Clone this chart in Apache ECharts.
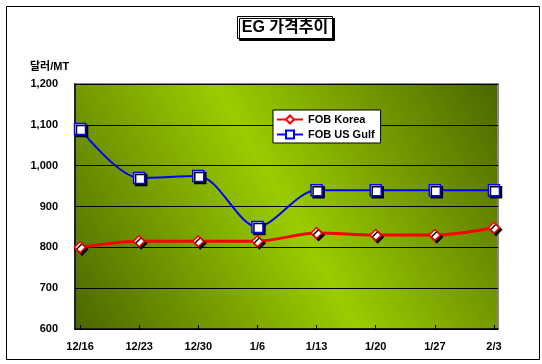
<!DOCTYPE html>
<html><head><meta charset="utf-8">
<script src="https://cdn.jsdelivr.net/npm/echarts@6/dist/echarts.min.js"></script>
<style>html,body{margin:0;padding:0;background:#fff}#c{width:542px;height:364px}</style>
</head><body><div id="c"></div>
<script>
const categories = ['12/16','12/23','12/30','1/6','1/13','1/20','1/27','2/3'];
const fobKorea = [800, 815, 815, 815, 835, 830, 830, 848];
const fobUSGulf = [1090, 970, 975, 850, 940, 940, 940, 940];
const yTicks = [600, 700, 800, 900, 1000, 1100, 1200];
const titleText = 'EG 가격추이';
const yUnit = '달러/MT';

const FONT = '"Liberation Sans", Arial, "Noto Sans CJK KR", sans-serif';
const chart = echarts.init(document.getElementById('c'), null, {renderer:'canvas'});
const idx = categories.map((_, i) => i);
const fmt = v => v >= 1000 ? Math.floor(v/1000) + ',' + String(v%1000).padStart(3,'0') : String(v);

chart.setOption({
  animation: false,
  backgroundColor: '#fff',
  graphic: [{
    type: 'rect', left: 4, top: 4, z: 0,
    shape: {width: 533, height: 353},
    style: {fill: 'none', stroke: '#000', lineWidth: 1}
  }],
  title: {
    text: titleText, left: 280, top: 16, textAlign: 'center',
    padding: [4, 5, 3, 5],
    borderColor: '#000', borderWidth: 1, backgroundColor: '#fff',
    shadowColor: '#000', shadowOffsetX: 2, shadowOffsetY: 2, shadowBlur: 0,
    textStyle: {fontFamily: FONT, fontWeight: 'bold', fontSize: 16, color: '#000'}
  },
  legend: {
    orient: 'vertical', left: 273, top: 110,
    backgroundColor: '#fff', borderColor: '#000', borderWidth: 1,
    padding: [4, 6, 3, 3], itemGap: 4, itemWidth: 26, itemHeight: 10,
    textStyle: {fontFamily: FONT, fontWeight: 'bold', fontSize: 11, color: '#000'},
    data: ['FOB Korea', 'FOB US Gulf']
  },
  grid: {
    left: 75, right: 44, top: 84, bottom: 35,
    show: true, borderColor: '#888', borderWidth: 2,
    backgroundColor: {
      type: 'linear', x: 1, y: 0, x2: 0, y2: 1,
      colorStops: [
        {offset: 0, color: '#4b6600'},
        {offset: 0.5, color: '#9acc00'},
        {offset: 1, color: '#4b6600'}
      ]
    }
  },
  xAxis: {
    type: 'value', min: -0.085, max: 7.068,
    axisLine: {show: true, onZero: false, lineStyle: {color: '#000', width: 1.5}},
    axisTick: {show: true, inside: true, length: 4, customValues: idx, lineStyle: {color: '#000'}},
    splitLine: {show: false},
    axisLabel: {
      customValues: idx, margin: 12,
      formatter: v => categories[Math.round(v)],
      fontFamily: FONT, fontWeight: 'bold', fontSize: 11, color: '#000'
    }
  },
  yAxis: {
    type: 'value', min: 600, max: 1200, interval: 100,
    name: yUnit, nameLocation: 'end', nameGap: 12,
    nameTextStyle: {fontFamily: FONT, fontWeight: 'bold', fontSize: 11, color: '#000', align: 'left', padding: [0, 0, 0, -45]},
    axisLine: {show: true, onZero: false, lineStyle: {color: '#000', width: 1.5}},
    axisTick: {show: false},
    splitLine: {show: true, lineStyle: {color: '#000', width: 1}},
    axisLabel: {
      formatter: fmt, margin: 17,
      fontFamily: FONT, fontWeight: 'bold', fontSize: 11, color: '#000'
    }
  },
  series: [
    {
      name: 'FOB Korea', type: 'line', smooth: 0.3,
      data: fobKorea.map((v, i) => [i, v]),
      symbol: 'diamond', symbolSize: 11,
      lineStyle: {color: '#ff0000', width: 3},
      itemStyle: {color: '#fff', borderColor: '#ff0000', borderWidth: 1.5,
        shadowColor: '#000', shadowOffsetX: 2, shadowOffsetY: 2, shadowBlur: 0},
      z: 3
    },
    {
      name: 'FOB US Gulf', type: 'line', smooth: 0.3,
      data: fobUSGulf.map((v, i) => [i, v]),
      symbol: 'rect', symbolSize: 11,
      lineStyle: {color: '#0000ff', width: 2},
      itemStyle: {color: '#fff', borderColor: '#0000ff', borderWidth: 1.5,
        shadowColor: '#000', shadowOffsetX: 2, shadowOffsetY: 2, shadowBlur: 0},
      z: 3
    }
  ]
});
</script></body></html>
